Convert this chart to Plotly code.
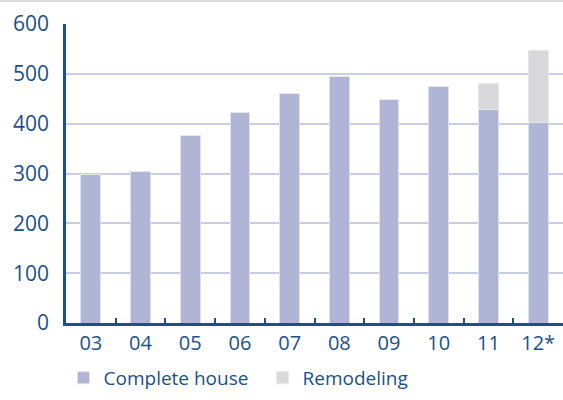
import plotly.graph_objects as go

years = ['03', '04', '05', '06', '07', '08', '09', '10', '11', '12*']
complete_house = [299, 305, 376, 422, 460, 494, 448, 474, 428, 402]
remodeling = [0, 0, 0, 0, 0, 0, 0, 0, 52, 144]

blue = '#1b4f8e'
fnt = 'Open Sans'

fig = go.Figure()
fig.add_bar(x=years, y=complete_house, name='Complete house',
            marker=dict(color='#b1b5d5', line=dict(color='#dfe0ee', width=1)))
fig.add_bar(x=years, y=remodeling, name='Remodeling',
            marker=dict(color='#d9d9db', line=dict(color='#e8e8ea', width=1)))

fig.update_layout(
    barmode='stack',
    bargap=0.6,
    width=563, height=400,
    margin=dict(l=66, r=0, t=24, b=77, autoexpand=False),
    plot_bgcolor='white', paper_bgcolor='white',
    font=dict(family=fnt, size=19, color=blue),
    showlegend=True,
    legend=dict(orientation='h', x=-0.005, xanchor='left', y=-0.12, yanchor='top',
                font=dict(family=fnt, size=19, color=blue), traceorder='normal',
                itemwidth=30, entrywidth=154, entrywidthmode='pixels'),
    # thin grey rule at the very top of the picture
    shapes=[dict(type='line', xref='paper', yref='paper', x0=-0.14, x1=1,
                 y0=1.077, y1=1.077, line=dict(color='#dcdcdc', width=2))],
)

fig.update_yaxes(range=[0, 600], dtick=100, showgrid=True, gridcolor='#c9cce2',
                 gridwidth=1.5, showline=True, linecolor=blue, linewidth=2.5,
                 zeroline=False, ticks='', automargin=False,
                 tickfont=dict(family=fnt, size=21, color=blue),
                 ticklabelstandoff=10)
fig.update_xaxes(showline=True, linecolor=blue, linewidth=2.5, ticks='inside',
                 tickson='boundaries', ticklen=5, tickcolor=blue, tickwidth=1.5,
                 automargin=False, tickfont=dict(family=fnt, size=20, color=blue))

# drop the page's default body margin so the figure fills the window
fig.write_html('out.html', config={'displayModeBar': False},
               post_script="document.body.style.margin='0';")
